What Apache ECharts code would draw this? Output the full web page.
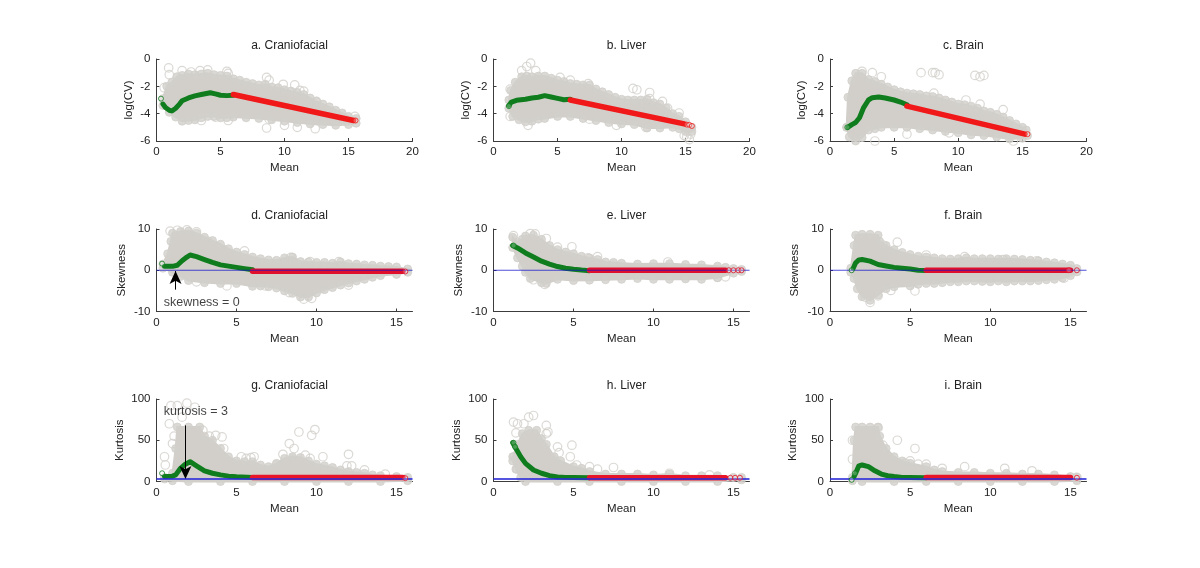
<!DOCTYPE html>
<html><head><meta charset="utf-8">
<script src="https://cdn.jsdelivr.net/npm/echarts@6/dist/echarts.min.js"></script>
<style>html,body{margin:0;padding:0;background:#fff}#c{width:1200px;height:568px}</style>
</head><body><div id="c"></div>
<script>
// --- tick labels
const xTicksTop=[0,5,10,15,20], xTicksLow=[0,5,10,15];
const yTicksCV=[0,-2,-4,-6], yTicksSk=[10,0,-10], yTicksKu=[100,50,0];
// --- panel a
const upperA=[[0.5,-2.9],[0.8,-2],[1.2,-1.7],[1.6,-1.3],[2,-1.2],[2.5,-1.1],[3,-1.15],[3.5,-1.1],[4,-1.05],[4.5,-1.15],[5,-1.2],[5.5,-1.25],[6,-1.45],[6.5,-1.55],[7,-1.7],[7.5,-1.8],[8,-1.9],[8.5,-1.85],[9,-2.05],[9.5,-2.1],[10,-2.25],[10.5,-2.35],[11,-2.45],[11.5,-2.6],[12,-2.85],[12.5,-3.1],[13,-3.3],[13.5,-3.5],[14,-3.75],[14.5,-3.95],[15,-4.2],[15.6,-4.35]];
const lowerA=[[0.5,-3.4],[1,-3.9],[1.5,-4.25],[2,-4.55],[2.5,-4.5],[3,-4.45],[3.5,-4.3],[4,-4.2],[4.5,-4.2],[5,-4.3],[5.5,-4.3],[6,-4.25],[7,-4.3],[8,-4.35],[9,-4.45],[10,-4.55],[11,-4.65],[12,-4.75],[13,-4.8],[14,-4.85],[15,-4.8],[15.6,-4.7]];
const outA=[[0.95,-0.65],[1,-1.15],[0.6,-2.1],[2,-0.85],[2.7,-0.95],[3.4,-0.85],[4,-0.8],[5.5,-0.9],[5.6,-1.05],[8.6,-1.35],[8.8,-1.55],[9.9,-1.85],[10.8,-1.9],[11.2,-2.3],[11.5,-2.35],[12.5,-3.1],[8.6,-5.05],[10,-4.85],[11,-5],[12.4,-5.1],[8.8,-4.4],[5.6,-4.5],[3.5,-4.5],[4.6,-4.25],[15.5,-4.2]];
const greenA=[[0.5,-3.3],[0.7,-3.55],[1,-3.75],[1.2,-3.8],[1.5,-3.6],[1.8,-3.3],[2,-3.05],[2.5,-2.85],[3,-2.7],[3.5,-2.6],[4.2,-2.47],[4.6,-2.55],[5,-2.65],[5.5,-2.68],[6,-2.65]];
const redA=[[6,-2.6],[15.4,-4.5]];
const endGreenA=[[0.35,-2.9]], endRedA=[[15.55,-4.5]];
// --- panel b
const upperB=[[1.2,-3],[1.35,-2.3],[1.7,-1.7],[2.2,-1.3],[2.6,-1.25],[3,-1.3],[3.5,-1.25],[4,-1.25],[4.5,-1.4],[5,-1.55],[5.5,-1.65],[6,-1.8],[6.5,-1.85],[7,-1.9],[7.5,-1.9],[8,-2.2],[8.5,-2.4],[9,-2.6],[9.5,-2.8],[10,-2.95],[10.5,-3],[11,-3],[11.5,-3],[12,-2.95],[12.5,-3.2],[13,-3.3],[13.5,-3.6],[14,-4],[14.5,-4.2],[15,-4.6],[15.5,-5]];
const lowerB=[[1.2,-3.6],[1.5,-4.2],[2,-4.45],[2.5,-4.6],[3,-4.55],[3.5,-4.4],[4,-4.35],[5,-4.2],[6,-4.2],[7,-4.35],[8,-4.5],[9,-4.65],[10,-4.75],[11,-4.8],[12,-5.05],[13,-5.05],[14,-5],[14.5,-5.1],[15,-5.3],[15.5,-5.3]];
const outB=[[2.9,-0.3],[2.6,-0.55],[2.2,-0.85],[3.3,-0.85],[5.2,-1.35],[6,-1.55],[7.4,-1.8],[10.9,-2.15],[11.2,-2.25],[12.2,-2.45],[12.2,-2.9],[13.2,-3.1],[14.5,-3.95],[1.3,-2.2],[1.3,-4.2],[2.7,-4.85],[9.6,-4.85],[7.5,-4.4],[11.9,-5.0],[15.1,-5.7],[15.4,-5.5],[15.3,-5.9],[14.9,-5.6],[13.6,-3.6]];
const greenB=[[1.2,-3.4],[1.4,-3.15],[1.8,-3.02],[2.5,-2.95],[3,-2.85],[3.5,-2.8],[4,-2.68],[4.5,-2.78],[5,-2.88],[5.5,-2.98],[6,-2.95]];
const redB=[[6,-3],[14.9,-4.75]];
const endGreenB=[[1.2,-3.45]], endRedB=[[15.1,-4.8],[15.3,-4.82],[15.5,-4.9]];
// --- panel c
const upperC=[[1.3,-5],[1.4,-2.8],[1.7,-1.6],[2,-1.05],[2.5,-1.05],[3,-1.5],[3.5,-1.65],[4,-1.85],[4.5,-2.05],[5,-2.25],[5.5,-2.4],[6,-2.5],[6.5,-2.55],[7,-2.6],[7.5,-2.7],[8,-2.75],[8.5,-2.85],[9,-3],[9.5,-3.15],[10,-3.3],[10.5,-3.35],[11,-3.45],[11.5,-3.6],[12,-3.8],[12.5,-3.9],[13,-4.05],[13.5,-4.25],[14,-4.5],[14.5,-4.75],[15,-5],[15.3,-5.2]];
const lowerC=[[1.3,-5],[1.5,-5.7],[2,-6],[2.5,-5.75],[3,-5.2],[3.5,-5.1],[4,-5],[5,-5],[6,-5],[7,-5.1],[8,-5.2],[9,-5.3],[10,-5.4],[11,-5.55],[12,-5.6],[13,-5.7],[14,-5.85],[15,-5.8],[15.4,-5.6]];
const outC=[[7.1,-1.0],[8,-1.0],[8.2,-1.0],[8.5,-1.15],[11.3,-1.2],[11.7,-1.3],[12,-1.2],[3.3,-1],[4,-1.3],[2.5,-0.9],[10.6,-3],[11.7,-3.3],[13.5,-3.7],[3.5,-6],[6,-5.5],[8.1,-2.5],[9.3,-5.4],[14.3,-6]];
const greenC=[[1.4,-5],[1.7,-4.8],[2,-4.65],[2.3,-4.3],[2.6,-3.6],[3,-3],[3.3,-2.83],[3.8,-2.78],[4.3,-2.85],[5,-3],[5.5,-3.15],[6,-3.35]];
const redC=[[6,-3.45],[15.2,-5.5]];
const endGreenC=[[1.35,-5]], endRedC=[[15.4,-5.5]];
// --- panel d
const upperD=[[0.4,1.5],[0.7,4],[0.9,7],[1,9],[1.5,9.4],[2,9.5],[2.5,9],[3,8],[3.5,7.2],[4,6.3],[4.5,5.2],[5,4.4],[5.5,3.8],[6,3.2],[6.5,2.8],[7,2.5],[7.5,2.4],[8,3],[8.5,3.2],[9,2.1],[9.5,2],[10,1.9],[10.5,1.9],[11,1.7],[11.5,2],[12,1.6],[12.5,1.5],[13,1.3],[13.5,1.2],[14,1],[14.5,0.9],[15,0.8],[15.7,0.3]];
const lowerD=[[0.4,0.5],[1,-0.5],[1.5,-1.5],[2,-2.5],[3,-3],[4,-3.2],[5,-3.2],[6,-3.9],[6.5,-3.8],[7,-4],[7.5,-4.3],[8,-5],[8.5,-5.6],[9,-6.5],[9.5,-6.5],[10,-5.5],[10.5,-4.7],[11,-4.2],[11.5,-3.6],[12,-3.1],[12.5,-2.6],[13,-2.2],[13.5,-1.7],[14,-1.3],[15,-1],[15.7,-0.5]];
const outD=[[0.85,9.5],[1.3,9.7],[1.9,9.8],[2.5,9.3],[3.2,7],[4.2,5],[5.5,4.7],[8.4,3.1],[9.6,2.1],[11.4,2.1],[9.2,-7],[9.7,-6.8],[8.3,-5.4],[10.3,-4.4],[12,-3.6],[4.4,-3.8],[2.5,-2.8],[6.8,-3.8]];
const greenD=[[0.5,0.95],[1,0.95],[1.3,1.2],[1.6,2.3],[1.9,3.2],[2.1,3.7],[2.5,3.3],[3,2.6],[3.5,1.9],[4,1.3],[4.5,1],[5,0.7],[5.5,0.4],[6,0.1]];
const redD=[[6,-0.25],[15.4,-0.25]];
const endGreenD=[[0.35,1.6]], endRedD=[[15.55,-0.3]];
// --- panel e
const upperE=[[1.2,8],[1.5,6.8],[1.8,7.5],[2,8.3],[2.5,8.5],[3,7.5],[3.5,6],[4,5],[4.5,4.4],[5,4],[5.5,3.4],[6,3],[6.5,2.6],[7,2],[7.5,1.9],[8,1.7],[9,1.5],[10,1.6],[11,1.6],[12,1.4],[13,1.3],[14,1],[14.5,0.7],[15,0.4],[15.5,0.2]];
const lowerE=[[1.2,5.5],[1.5,3],[1.8,1],[2,-0.5],[2.3,-2],[3,-3],[3.3,-3.2],[4,-2.2],[5,-2.5],[6,-2.4],[7,-2.3],[8,-2.2],[9,-2],[10,-2.2],[11,-2.2],[12,-2.1],[13,-2.2],[14,-1.8],[15,-0.7],[15.5,-0.3]];
const outE=[[1.25,8.4],[2.3,8.9],[2.6,8.8],[3.3,7.7],[4,5.6],[4.9,5.7],[6.5,3.3],[5.9,3],[10.9,2],[14.5,-1.6],[3.2,-3.4],[2.5,-2.3],[14,-1.7]];
const greenE=[[1.2,6],[1.5,5.4],[2,4.2],[2.5,3.2],[3,2.2],[3.5,1.5],[4,0.9],[4.5,0.5],[5,0.25],[5.5,0.05],[6,-0.1]];
const redE=[[6,0],[14.5,0]];
const endGreenE=[[1.25,6]], endRedE=[[14.7,0],[15,0],[15.3,0],[15.5,0]];
// --- panel f
const upperF=[[1.3,0.5],[1.5,6],[1.6,8.5],[2,8.7],[2.5,8.7],[3,8.5],[3.1,7],[3.5,6],[4,5],[4.5,4.3],[5,3.8],[5.5,3.4],[6,3.2],[6.5,3],[7,2.8],[7.5,2.7],[8,2.8],[8.5,3],[9,2.8],[9.5,2.8],[10,2.8],[10.5,2.7],[11,2.8],[11.5,2.7],[12,2.6],[12.5,2.4],[13,2.3],[13.5,2],[14,1.8],[14.5,1.5],[15,1.2],[15.4,0.4]];
const lowerF=[[1.3,-0.5],[1.5,-2],[1.7,-4.5],[2,-6.4],[2.5,-7.3],[3,-6],[3.5,-4.5],[4,-4],[5,-3.8],[5.5,-3.4],[6,-3.2],[6.5,-3.2],[7,-3],[7.5,-2.8],[8,-2.8],[8.5,-2.6],[9,-2.6],[9.5,-2.7],[10,-2.8],[10.5,-2.6],[11,-2.8],[11.5,-2.6],[12,-2.6],[12.5,-2.6],[13,-2.5],[13.5,-2.3],[14,-2.2],[14.5,-1.9],[15,-1.3],[15.4,-0.4]];
const outF=[[4.2,6.8],[3.3,6.1],[6,3.7],[8.4,3.3],[10.8,2.6],[12.9,2.3],[5.3,-5],[2.5,-7.8],[3,-6.2],[3.8,-4.9],[14.6,-1.9],[2.2,-6.5]];
const greenF=[[1.45,0.5],[1.6,1.8],[1.8,2.5],[2,2.6],[2.5,2.2],[3,1.4],[3.5,1.05],[4,0.7],[4.5,0.5],[5,0.3],[5.5,0],[6,-0.05]];
const redF=[[6,0],[15,0]];
const endGreenF=[[1.35,0]], endRedF=[[14.9,0],[15.4,0]];
// --- panel g
const upperG=[[0.5,5],[1,10],[1.2,40],[1.3,66],[2,66],[2.7,66],[3,55],[3.5,50],[4,40],[4.5,30],[5,25],[5.5,24],[6,24],[6.5,20],[7,18],[7.5,22],[8,28],[8.5,30],[9,29],[9.5,25],[10,21],[10.5,19],[11,17],[11.5,14],[12,12],[12.5,11],[13,10],[13.5,8],[14,7],[15,6],[15.7,5]];
const lowerG=[[0.5,3],[1,1],[2,0],[4,0],[6,0],[8,0],[10,0],[12,0],[14,0],[15.7,1]];
const outG=[[0.5,30],[0.55,20],[0.9,92],[1.3,92],[1.9,95],[2.4,90],[1.6,78],[1,46],[1.1,55],[0.8,70],[2.9,62],[3.3,55],[3.7,56],[4.1,54],[4.2,40],[5.3,30],[5.6,28],[5.9,29],[6.1,30],[8.9,60],[9.7,56],[9.9,63],[8.3,46],[8.6,40],[7.9,33],[9.3,32],[9.6,28],[10.4,30],[12,33],[11.9,19],[12.2,19],[13,14],[14.3,9],[7.5,20],[8.5,27]];
const greenG=[[0.5,6],[1,6.5],[1.2,8],[1.5,16],[1.8,21],[2.1,24],[2.5,19],[3,13],[3.5,10],[4,8],[4.5,6.5],[5,5.8],[6,5]];
const redG=[[6,5],[15.4,5]];
const endGreenG=[[0.35,10]], endRedG=[[15.55,4]];
// --- panel h
const upperH=[[1.2,30],[1.5,45],[1.8,58],[2.2,62],[2.7,62],[3,52],[3.3,45],[3.8,30],[4.2,25],[5,18],[5.5,16],[6,12],[7,9],[8,9],[9,9],[10,8],[11,9],[12,7],[13,7],[14,7],[15,5],[15.5,5]];
const lowerH=[[1.2,25],[1.4,15],[1.7,5],[2,0],[4,0],[6,0],[8,0],[10,0],[12,0],[14,0],[15.5,2]];
const outH=[[1.25,72],[1.5,70],[1.9,70],[2.2,78],[2.5,80],[1.4,59],[3.3,68],[3.4,60],[3.3,58],[4,42],[4.1,35],[4.9,44],[4.8,30],[5.2,20],[6,18],[6.5,15],[7.5,17],[1.3,30],[1.5,15],[11,10],[13.5,8]];
const greenH=[[1.2,47],[1.4,40],[1.7,30],[2,22],[2.5,14],[3,10],[3.5,7],[4,5.5],[4.5,5],[5,4.7],[6,4.5]];
const redH=[[6,4.5],[14.5,4.5]];
const endGreenH=[[1.25,47],[1.35,42]], endRedH=[[14.8,4.5],[15.1,4.5],[15.4,4.5]];
// --- panel i
const upperI=[[1.4,5],[1.5,50],[1.6,66],[2,66],[2.5,66],[3,66],[3.1,55],[3.5,40],[4,30],[4.5,25],[5,22],[6,18],[6.5,14],[7,12],[8,11],[9,11],[10,10],[11,10],[12,9],[13,9],[14,8],[15,6],[15.4,5]];
const lowerI=[[1.4,1],[2,0],[4,0],[6,0],[8,0],[10,0],[12,0],[14,0],[15.4,1]];
const outI=[[1.4,50],[1.4,27],[4.2,50],[5.3,40],[3.3,44],[3,65],[3.7,29],[4.7,22],[5,25],[5.5,21],[6,21],[7,16],[8.4,18],[10.9,16],[12.6,13],[15.4,5]];
const greenI=[[1.5,6],[1.6,10],[1.8,19],[2,20],[2.4,18],[2.8,13],[3.2,9],[3.6,7],[4,6],[4.5,5],[5,4.7],[6,4.5]];
const redI=[[6,5],[15,5]];
const endGreenI=[[1.35,2],[1.55,10]], endRedI=[[15.4,4.5]];
// --- reference levels and annotations
const refSkew=[[0,0],[16,0]], refKurt=[[0,3],[16,3]];
const arrowD=[[1.19,-4.7],[1.19,-0.2]], arrowG=[[1.81,68],[1.81,3]];
const noteD=[2.83,-7.9], noteG=[2.46,85];

const panels=[
 {t:'a. Craniofacial',u:upperA,l:lowerA,o:outA,g:greenA,r:redA,eg:endGreenA,er:endRedA},
 {t:'b. Liver',u:upperB,l:lowerB,o:outB,g:greenB,r:redB,eg:endGreenB,er:endRedB},
 {t:'c. Brain',u:upperC,l:lowerC,o:outC,g:greenC,r:redC,eg:endGreenC,er:endRedC},
 {t:'d. Craniofacial',u:upperD,l:lowerD,o:outD,g:greenD,r:redD,eg:endGreenD,er:endRedD,ann:{a:arrowD,n:noteD,s:'skewness = 0'}},
 {t:'e. Liver',u:upperE,l:lowerE,o:outE,g:greenE,r:redE,eg:endGreenE,er:endRedE},
 {t:'f. Brain',u:upperF,l:lowerF,o:outF,g:greenF,r:redF,eg:endGreenF,er:endRedF},
 {t:'g. Craniofacial',u:upperG,l:lowerG,o:outG,g:greenG,r:redG,eg:endGreenG,er:endRedG,ann:{a:arrowG,n:noteG,s:'kurtosis = 3'}},
 {t:'h. Liver',u:upperH,l:lowerH,o:outH,g:greenH,r:redH,eg:endGreenH,er:endRedH},
 {t:'i. Brain',u:upperI,l:lowerI,o:outI,g:greenI,r:redI,eg:endGreenI,er:endRedI}
];
const rows=[
 {top:59,h:82,name:'log(CV)',gap:22,min:-6,max:0,iv:2,ticks:yTicksCV,xmax:20,xt:xTicksTop,ref:null,red:'#f01818',refStyle:null},
 {top:229,h:82.5,name:'Skewness',gap:29,min:-10,max:10,iv:10,ticks:yTicksSk,xmax:16,xt:xTicksLow,ref:refSkew,red:'#e0102c',refStyle:{color:'#1414c8',width:1,opacity:0.75}},
 {top:399,h:82.5,name:'Kurtosis',gap:31,min:0,max:100,iv:50,ticks:yTicksKu,xmax:16,xt:xTicksLow,ref:refKurt,red:'#e81428',refStyle:{color:'#2a2ad8',width:2,opacity:0.8}}
];
const cols=[{left:156.5,w:256},{left:493.5,w:256},{left:830,w:256.5}];
const GRAY='#d2cfca', TXT='#222', AX='#3c3c3c', FF='"Liberation Sans",Arial,sans-serif';

const opt={animation:false,backgroundColor:'#fff',textStyle:{fontFamily:FF},title:[],grid:[],xAxis:[],yAxis:[],series:[]};
panels.forEach((p,i)=>{
  const R=rows[Math.floor(i/3)], C=cols[i%3];
  opt.grid.push({left:C.left,top:R.top,width:C.w,height:R.h,containLabel:false});
  opt.title.push({text:p.t,left:C.left+C.w/2,top:R.top-21-3,textAlign:'center',textStyle:{fontSize:12,fontWeight:'normal',color:TXT,fontFamily:FF}});
  opt.xAxis.push({type:'value',gridIndex:i,min:0,max:R.xmax,interval:5,name:'Mean',nameLocation:'middle',nameGap:21,
    nameTextStyle:{fontSize:11.5,color:TXT},splitLine:{show:false},
    axisLine:{show:true,onZero:false,lineStyle:{color:AX,width:1}},
    axisTick:{show:true,inside:true,length:3,customValues:R.xt,lineStyle:{color:AX}},
    axisLabel:{fontSize:11.5,color:TXT,margin:5,customValues:R.xt,formatter:v=>String(v)}});
  opt.yAxis.push({type:'value',gridIndex:i,min:R.min,max:R.max,interval:R.iv,name:R.name,nameLocation:'middle',nameGap:R.gap,
    nameTextStyle:{fontSize:11.5,color:TXT},splitLine:{show:false},
    axisLine:{show:true,onZero:false,lineStyle:{color:AX,width:1}},
    axisTick:{show:true,inside:true,length:3,customValues:R.ticks,lineStyle:{color:AX}},
    axisLabel:{fontSize:11.5,color:TXT,margin:6,customValues:R.ticks,formatter:v=>String(v)}});
  const axes={xAxisIndex:i,yAxisIndex:i};
  // filled body of the cloud
  const ring=p.u.concat(p.l.slice().reverse());
  opt.series.push({type:'custom',...axes,silent:true,clip:false,z:1,data:[[0,0]],
    encode:{x:0,y:1},
    renderItem:(params,api)=>({type:'polygon',shape:{points:ring.map(q=>api.coord(q))},style:{fill:GRAY,stroke:GRAY,lineWidth:2}})});
  // cloud edge circles merged with body, and hollow outliers
  opt.series.push({type:'scatter',...axes,silent:true,clip:false,z:2,symbol:'circle',symbolSize:8,
    data:p.u.concat(p.l),itemStyle:{color:GRAY,borderColor:GRAY,borderWidth:1}});
  opt.series.push({type:'scatter',...axes,silent:true,clip:false,z:2,symbol:'circle',symbolSize:8.5,
    data:p.o,itemStyle:{color:'rgba(255,255,255,0)',borderColor:GRAY,borderWidth:1.2}});
  opt.series.push({type:'line',...axes,silent:true,clip:false,z:3,symbol:'none',data:p.g,lineStyle:{color:'#0f7d1e',width:5,cap:'round',join:'round'}});
  opt.series.push({type:'line',...axes,silent:true,clip:false,z:4,symbol:'none',data:p.r,lineStyle:{color:R.red,width:5.5,cap:'round'}});
  if(R.ref) opt.series.push({type:'line',...axes,silent:true,clip:false,z:5,symbol:'none',data:R.ref,lineStyle:R.refStyle});
  opt.series.push({type:'scatter',...axes,silent:true,clip:false,z:6,symbolSize:5,data:p.eg,itemStyle:{color:'rgba(255,255,255,0.3)',borderColor:'#0f7d1e',borderWidth:1}});
  opt.series.push({type:'scatter',...axes,silent:true,clip:false,z:6,symbolSize:5,data:p.er,itemStyle:{color:'rgba(255,255,255,0.3)',borderColor:R.red,borderWidth:1}});
  if(p.ann){
    opt.series.push({type:'line',...axes,silent:true,clip:false,z:7,symbol:'none',data:[],
      markLine:{silent:true,animation:false,symbol:['none','arrow'],symbolSize:[9,13],label:{show:false},
        lineStyle:{color:'#000',width:1,type:'solid'},data:[[{coord:p.ann.a[0]},{coord:p.ann.a[1]}]]}});
    opt.series.push({type:'scatter',...axes,silent:true,clip:false,z:8,symbolSize:0,data:[p.ann.n],
      itemStyle:{color:'#111'},
      label:{show:true,position:'inside',formatter:p.ann.s,fontSize:12.5,color:'#111',fontFamily:FF,textBorderWidth:0}});
  }
});
echarts.init(document.getElementById('c'),null,{renderer:'canvas'}).setOption(opt);
</script></body></html>
